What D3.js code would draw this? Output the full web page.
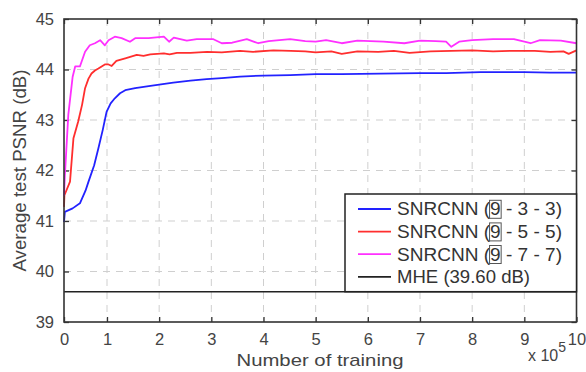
<!DOCTYPE html>
<html>
<head>
<meta charset="utf-8">
<script src="https://cdn.jsdelivr.net/npm/d3@7"></script>
<style>
  body { margin: 0; background: #fff; }
  text { font-family: "Liberation Sans", Arial, sans-serif; }
</style>
</head>
<body>
<div id="my_dataviz"></div>
<script>
// data (x in units of 10^5 iterations)
const xTicks = [0, 1, 2, 3, 4, 5, 6, 7, 8, 9, 10];
const yTicks = [39, 40, 41, 42, 43, 44, 45];

const blueX = [0, 0.02, 0.2, 0.37, 0.5, 0.57, 0.7, 0.8, 0.9, 0.99, 1.07, 1.15, 1.25, 1.35, 1.54, 1.8, 2.0, 2.27, 2.6, 2.91, 3.2, 3.55, 4.0, 4.51, 5.0, 5.5, 6.24, 7.0, 7.5, 8.16, 8.6, 9.0, 9.5, 10];
const blueY = [40.98, 41.18, 41.25, 41.35, 41.6, 41.78, 42.1, 42.44, 42.8, 43.16, 43.33, 43.43, 43.53, 43.59, 43.63, 43.67, 43.7, 43.74, 43.78, 43.81, 43.83, 43.86, 43.88, 43.89, 43.91, 43.91, 43.92, 43.93, 43.93, 43.95, 43.95, 43.95, 43.94, 43.94];

const redX = [0, 0.01, 0.14, 0.22, 0.33, 0.42, 0.49, 0.57, 0.64, 0.72, 0.8, 0.95, 1.03, 1.09, 1.18, 1.35, 1.57, 1.7, 1.83, 2.09, 2.2, 2.34, 2.6, 2.92, 3.2, 3.55, 3.8, 4.19, 4.52, 4.8, 5.0, 5.3, 5.5, 5.8, 6.2, 6.5, 6.8, 7.2, 7.6, 8.0, 8.4, 8.8, 9.2, 9.5, 9.75, 9.85, 10];
const redY = [41.28, 41.51, 41.78, 42.64, 42.97, 43.3, 43.63, 43.82, 43.92, 43.98, 44.02, 44.1, 44.1, 44.07, 44.17, 44.22, 44.29, 44.27, 44.3, 44.32, 44.3, 44.33, 44.33, 44.35, 44.34, 44.37, 44.35, 44.38, 44.37, 44.36, 44.34, 44.36, 44.31, 44.36, 44.35, 44.37, 44.33, 44.36, 44.37, 44.38, 44.36, 44.37, 44.37, 44.35, 44.36, 44.31, 44.38];

const magX = [0, 0.02, 0.1, 0.2, 0.26, 0.37, 0.49, 0.6, 0.72, 0.84, 0.95, 1.03, 1.15, 1.28, 1.44, 1.54, 1.8, 2.09, 2.19, 2.28, 2.53, 2.72, 3.04, 3.2, 3.4, 3.68, 3.9, 4.1, 4.51, 4.8, 5.0, 5.2, 5.5, 5.8, 6.3, 6.7, 7.0, 7.3, 7.5, 7.6, 7.75, 8.0, 8.4, 8.8, 9.12, 9.3, 9.7, 10];
const magY = [41.5, 41.9, 43.1, 43.85, 44.06, 44.06, 44.35, 44.48, 44.52, 44.58, 44.48, 44.58, 44.65, 44.62, 44.55, 44.62, 44.62, 44.65, 44.55, 44.63, 44.57, 44.6, 44.6, 44.52, 44.53, 44.6, 44.52, 44.56, 44.6, 44.56, 44.55, 44.58, 44.52, 44.57, 44.55, 44.52, 44.57, 44.56, 44.55, 44.45, 44.55, 44.58, 44.6, 44.6, 44.52, 44.58, 44.57, 44.52];

const mheValue = 39.6;

const seriesNames = ["SNRCNN (9 - 3 - 3)", "SNRCNN (9 - 5 - 5)", "SNRCNN (9 - 7 - 7)", "MHE (39.60 dB)"];
const seriesColors = ["#2222ff", "#ff2e2e", "#ff30ff", "#222"];

const W = 586, H = 372;
const svg = d3.select("#my_dataviz")
  .append("svg")
    .attr("width", W)
    .attr("height", H);

// the figure's first unit is a little narrower than the rest
const x = d3.scaleLinear().domain([0, 1, 10]).range([64, 107, 576.5]);
const y = d3.scaleLinear().domain([39, 45]).range([322, 19]);
const x0 = x(0), x1 = x(10), yTop = y(45), yBot = y(39);

// grid
svg.append("g")
  .selectAll("line")
  .data(xTicks.slice(1, -1))
  .join("line")
    .attr("x1", d => x(d)).attr("x2", d => x(d))
    .attr("y1", yTop).attr("y2", yBot)
    .attr("stroke", "#cfcfcf").attr("stroke-dasharray", "7,6");
svg.append("g")
  .selectAll("line")
  .data(yTicks.slice(1, -1))
  .join("line")
    .attr("x1", x0).attr("x2", x1)
    .attr("y1", d => y(d)).attr("y2", d => y(d))
    .attr("stroke", "#cfcfcf").attr("stroke-dasharray", "7,6");

// axes (ticks inside, on all four sides)
const tickCol = "#333";
const axB = svg.append("g").attr("transform", `translate(0,${yBot})`)
  .call(d3.axisBottom(x).tickValues(xTicks).tickSize(-5).tickPadding(12).tickFormat(d3.format("d")));
const axT = svg.append("g").attr("transform", `translate(0,${yTop})`)
  .call(d3.axisTop(x).tickValues(xTicks).tickSize(-5).tickFormat(""));
const axL = svg.append("g").attr("transform", `translate(${x0},0)`)
  .call(d3.axisLeft(y).tickValues(yTicks).tickSize(-5).tickPadding(10).tickFormat(d3.format("d")));
const axR = svg.append("g").attr("transform", `translate(${x1},0)`)
  .call(d3.axisRight(y).tickValues(yTicks).tickSize(-5).tickFormat(""));
[axB, axT, axL, axR].forEach(a => {
  a.select(".domain").remove();
  a.selectAll("line").attr("stroke", tickCol).attr("stroke-width", 1.3);
  a.selectAll("text").attr("fill", "#444").style("font-size", "16.5px")
    .style("font-family", "'Liberation Sans', Arial, sans-serif");
});
axB.selectAll("text").attr("dy", "0.68em");

// lines
const line = d3.line().x(d => x(d[0])).y(d => y(d[1]));
const seriesData = [d3.zip(blueX, blueY), d3.zip(redX, redY), d3.zip(magX, magY)];
seriesData.forEach((s, i) => {
  svg.append("path")
    .datum(s)
    .attr("fill", "none")
    .attr("stroke", seriesColors[i])
    .attr("stroke-width", 1.8)
    .attr("stroke-linejoin", "round")
    .attr("d", line);
});

// MHE reference line
svg.append("line")
  .attr("x1", x0).attr("x2", x1)
  .attr("y1", y(mheValue)).attr("y2", y(mheValue))
  .attr("stroke", "#222").attr("stroke-width", 1.5);

// plot box
svg.append("rect")
  .attr("x", x0).attr("y", yTop)
  .attr("width", x1 - x0).attr("height", yBot - yTop)
  .attr("fill", "none").attr("stroke", "#333").attr("stroke-width", 1.6);

// legend
const lg = svg.append("g");
const lgLeft = 345, lgTop = 194, lgBot = y(mheValue);
lg.append("rect")
  .attr("x", lgLeft).attr("y", lgTop)
  .attr("width", x1 - lgLeft).attr("height", lgBot - lgTop)
  .attr("fill", "#fff").attr("stroke", "#222").attr("stroke-width", 1.5);
const textLens = [165, 165, 165, 133];
seriesNames.forEach((name, i) => {
  const cy = 209 + i * 22.6;
  lg.append("line")
    .attr("x1", 358).attr("x2", 391)
    .attr("y1", cy).attr("y2", cy)
    .attr("stroke", seriesColors[i]).attr("stroke-width", 1.8);
  const t = lg.append("text")
    .attr("x", 397).attr("y", cy + 6.3)
    .attr("fill", "#333")
    .attr("textLength", textLens[i])
    .attr("lengthAdjust", "spacingAndGlyphs")
    .style("font-size", "17.5px")
    .text(name);
  if (i < 3) {
    const e = t.node().getExtentOfChar(8);
    lg.append("rect")
      .attr("x", e.x - 0.5).attr("y", e.y + 1)
      .attr("width", e.width + 1).attr("height", e.height - 2)
      .attr("fill", "none").attr("stroke", "#555").attr("stroke-width", 1);
  }
});

// axis titles
svg.append("text")
  .attr("transform", `translate(26,${(yTop + yBot) / 2}) rotate(-90)`)
  .attr("text-anchor", "middle")
  .attr("textLength", 202)
  .attr("lengthAdjust", "spacingAndGlyphs")
  .attr("fill", "#444")
  .style("font-size", "18.5px")
  .text("Average test PSNR (dB)");
svg.append("text")
  .attr("x", 320).attr("y", 366)
  .attr("text-anchor", "middle")
  .attr("textLength", 167)
  .attr("lengthAdjust", "spacingAndGlyphs")
  .attr("fill", "#444")
  .style("font-size", "17px")
  .text("Number of training");
const ex = svg.append("text")
  .attr("x", 528).attr("y", 361)
  .attr("fill", "#444")
  .style("font-size", "16px");
ex.append("tspan").text("x 10");
ex.append("tspan").attr("dy", -9).style("font-size", "14px").text("5");
</script>
</body>
</html>
